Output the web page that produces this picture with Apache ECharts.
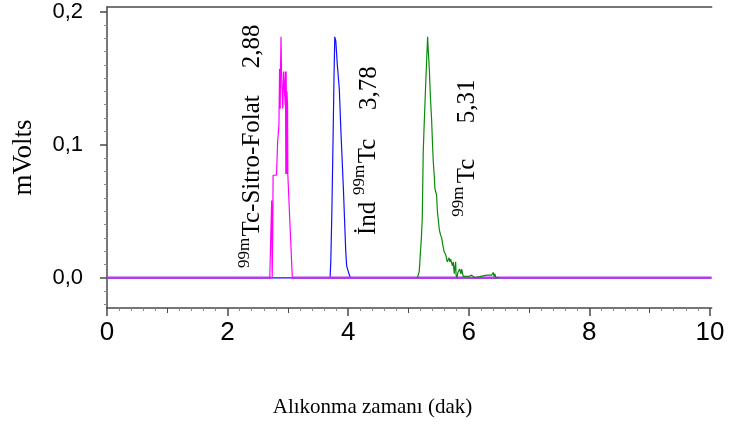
<!DOCTYPE html>
<html>
<head>
<meta charset="utf-8">
<script src="https://cdn.jsdelivr.net/npm/echarts@6/dist/echarts.min.js"></script>
<style>
html,body{margin:0;padding:0;background:#fff;}
#chart{width:730px;height:424px;}
</style>
</head>
<body>
<div id="chart"></div>
<script>
// ---- axis ranges and tick labels ----
const xMin = 0, xMax = 10.03;
const yMin = -0.0227, yMax = 0.2034;
const xTickLabels = [0, 2, 4, 6, 8, 10];
const xMidTicks = [1, 3, 5, 7, 9];
const yTickLabels = [0.0, 0.1, 0.2];
const xTitle = 'Alıkonma zamanı (dak)';
const yTitle = 'mVolts';

// ---- baseline (purple) ----
const baseTimeA = [0, 2.72];
const baseValA = [0, 0];
const baseTimeB = [3.075, 10.03];
const baseValB = [0, 0];

// ---- 99mTc-Sitro-Folat (magenta) ----
const magentaTime = [2.70, 2.728, 2.731, 2.737, 2.740, 2.750, 2.755, 2.787, 2.810, 2.814, 2.830, 2.847, 2.852, 2.862, 2.869, 2.873, 2.878, 2.886, 2.890, 2.895, 2.908, 2.915, 2.925, 2.930, 2.945, 2.955, 2.960, 2.966, 2.972, 2.980, 2.985, 2.995, 3.000, 3.024, 3.035, 3.074, 3.090];
const magentaVal  = [0, 0, 0.058, 0.058, 0, 0.040, 0.077, 0.077, 0.077, 0.080, 0.102, 0.102, 0.115, 0.157, 0.155, 0.127, 0.155, 0.181, 0.181, 0.155, 0.154, 0.127, 0.127, 0.155, 0.155, 0.130, 0.155, 0.078, 0.155, 0.078, 0.140, 0.130, 0.077, 0.077, 0.040, 0, 0];

// ---- İnd 99mTc (blue) ----
const blueTime = [2.72, 3.70, 3.712, 3.73, 3.75, 3.765, 3.778, 3.795, 3.82, 3.853, 3.88, 3.92, 3.96, 3.975, 4.00, 4.02, 4.04, 4.10];
const blueVal  = [0, 0, 0.012, 0.050, 0.105, 0.150, 0.181, 0.178, 0.160, 0.142, 0.110, 0.068, 0.020, 0.009, 0.005, 0.002, 0, 0];

// ---- 99mTc (green) ----
const greenTime = [5.15, 5.163, 5.18, 5.20, 5.215, 5.229, 5.245, 5.26, 5.29, 5.318, 5.33, 5.346, 5.365, 5.384, 5.40, 5.412, 5.428, 5.439, 5.467, 5.48, 5.494, 5.51, 5.522, 5.535, 5.551, 5.565, 5.577, 5.59, 5.605, 5.62, 5.633, 5.645, 5.66, 5.675, 5.688, 5.70, 5.716, 5.73, 5.743, 5.76, 5.771, 5.783, 5.79, 5.804, 5.82, 5.85, 5.87, 5.882, 5.909, 5.937, 6.00, 6.048, 6.10, 6.20, 6.30, 6.38, 6.406, 6.42, 6.434, 6.45, 6.50];
const greenVal  = [0, 0.001, 0.005, 0.020, 0.030, 0.044, 0.094, 0.114, 0.150, 0.181, 0.170, 0.157, 0.135, 0.119, 0.100, 0.087, 0.077, 0.067, 0.062, 0.050, 0.044, 0.037, 0.034, 0.032, 0.030, 0.026, 0.023, 0.020, 0.019, 0.017, 0.0165, 0.012, 0.0128, 0.015, 0.012, 0.014, 0.0128, 0.009, 0.012, 0.003, 0.0078, 0.012, 0.002, 0, 0.004, 0.0065, 0.003, 0.0065, 0.001, 0, 0.001, 0.002, 0, 0.001, 0.002, 0.002, 0.004, 0.001, 0.003, 0, 0];

function zip(t, v) { return t.map((x, i) => [x, v[i]]); }
function range(a, b, step, skip) {
  const out = [];
  for (let k = Math.round(a / step); k * step <= b + 1e-9; k++) {
    const val = +(k * step).toFixed(4);
    if (!skip(val)) out.push(val);
  }
  return out;
}
const xMinor = range(0, 10, 0.2, v => Math.abs(v - Math.round(v)) < 1e-6);
const yMinor = range(-0.02, 0.2, 0.01, v => Math.abs(v * 10 - Math.round(v * 10)) < 1e-6);

const axisCol = '#4a4a4a';
const serif = '"Liberation Serif", "Times New Roman", serif';
const sans = '"Liberation Sans", Arial, sans-serif';

const chart = echarts.init(document.getElementById('chart'), null, {renderer: 'canvas'});
const common = {type: 'value', splitLine: {show: false}};
function rtext(x, y, text, size) {
  return {type: 'text', x: x, y: y, rotation: Math.PI / 2,
    style: {text: text, font: size + 'px ' + serif, fill: '#000', align: 'left', verticalAlign: 'middle'}};
}
chart.setOption({
  animation: false,
  backgroundColor: '#fff',
  grid: {left: 107, right: 730 - 711.7, top: 7, bottom: 424 - 308, containLabel: false},
  xAxis: [
    Object.assign({}, common, {
      min: xMin, max: xMax, position: 'bottom',
      axisLine: {onZero: false, lineStyle: {color: axisCol, width: 1.5}},
      axisTick: {customValues: xTickLabels, length: 8, lineStyle: {color: axisCol, width: 1.5}},
      axisLabel: {customValues: xTickLabels, fontSize: 26, fontFamily: sans, color: '#000', margin: 12}
    }),
    Object.assign({}, common, {
      min: xMin, max: xMax, position: 'bottom',
      axisLine: {show: false, onZero: false},
      axisTick: {customValues: xMidTicks, length: 5, lineStyle: {color: axisCol, width: 1}},
      axisLabel: {show: false}
    }),
    Object.assign({}, common, {
      min: xMin, max: xMax, position: 'bottom',
      axisLine: {show: false, onZero: false},
      axisTick: {customValues: xMinor, length: 3, lineStyle: {color: '#888', width: 1}},
      axisLabel: {show: false}
    }),
    Object.assign({}, common, {
      min: xMin, max: xMax, position: 'top',
      axisLine: {show: true, onZero: false, lineStyle: {color: axisCol, width: 1.5}},
      axisTick: {show: false}, axisLabel: {show: false}
    })
  ],
  yAxis: [
    Object.assign({}, common, {
      min: yMin, max: yMax, position: 'left',
      axisLine: {onZero: false, lineStyle: {color: axisCol, width: 1.5}},
      axisTick: {customValues: yTickLabels, length: 7, lineStyle: {color: axisCol, width: 1.5}},
      axisLabel: {customValues: yTickLabels, fontSize: 22, fontFamily: sans, color: '#000', margin: 24,
        formatter: v => v.toFixed(1).replace('.', ',')},
      name: yTitle, nameLocation: 'middle', nameGap: 70,
      nameTextStyle: {fontFamily: serif, fontSize: 27, color: '#000'}
    }),
    Object.assign({}, common, {
      min: yMin, max: yMax, position: 'left',
      axisLine: {show: false, onZero: false},
      axisTick: {customValues: yMinor, length: 3, lineStyle: {color: '#888', width: 1}},
      axisLabel: {show: false}
    })
  ],
  series: [
    {type: 'line', name: 'ind', data: zip(blueTime, blueVal), symbol: 'none', lineStyle: {color: '#1010ff', width: 1.2}, z: 2},
    {type: 'line', name: 'baseA', data: zip(baseTimeA, baseValA), symbol: 'none', lineStyle: {color: '#b03cea', width: 2.4}, z: 3},
    {type: 'line', name: 'baseB', data: zip(baseTimeB, baseValB), symbol: 'none', lineStyle: {color: '#b03cea', width: 2.4}, z: 3},
    {type: 'line', name: 'folat', data: zip(magentaTime, magentaVal), symbol: 'none', lineStyle: {color: '#ff00ff', width: 1.2}, z: 4},
    {type: 'line', name: 'tc', data: zip(greenTime, greenVal), symbol: 'none', lineStyle: {color: '#0a8a0a', width: 1.2}, z: 4}
  ],
  graphic: [
    {type: 'text', x: 372.5, y: 407, style: {text: xTitle, font: '21px ' + serif, fill: '#000', align: 'center', verticalAlign: 'middle'}},

    rtext(245, 268, '99m', 17),
    rtext(252.5, 236.5, 'Tc-Sitro-Folat', 25),
    rtext(252.5, 68.3, '2,88', 25),

    rtext(368.5, 235, 'İnd', 25),
    rtext(360, 195, '99m', 17),
    rtext(368.5, 163.3, 'Tc', 25),
    rtext(369, 110, '3,78', 25),

    rtext(459, 216.7, '99m', 17),
    rtext(467.5, 183.3, 'Tc', 25),
    rtext(467.5, 123.3, '5,31', 25)
  ]
});
</script>
</body>
</html>
